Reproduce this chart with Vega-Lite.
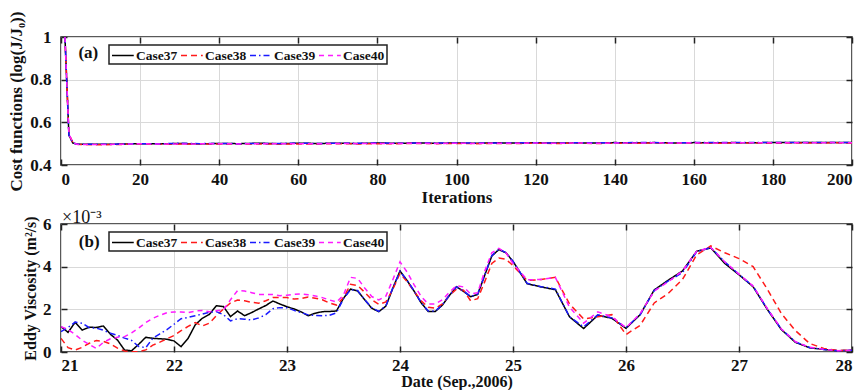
{
  "$schema": "https://vega.github.io/schema/vega-lite/v6.json",
  "padding": {"left": 6, "top": 10, "right": 13, "bottom": 0},
  "bounds": "flush",
  "spacing": 59,
  "background": "white",
  "config": {
    "font": "Liberation Serif",
    "view": {"stroke": "#222222", "strokeWidth": 1.5},
    "axis": {
      "labelFont": "Liberation Serif", "labelFontWeight": "bold", "labelFontSize": 17, "labelColor": "#111111",
      "titleFont": "Liberation Serif", "titleFontWeight": "bold", "titleFontSize": 17, "titleColor": "#111111",
      "domain": false, "gridColor": "#d9d9d9", "gridWidth": 1, "gridOpacity": 1,
      "tickColor": "#222222", "tickWidth": 1.5, "tickSize": -6, "labelPadding": 12
    },
    "axisY": {"labelPadding": 16, "titlePadding": 4},
    "legend": {
      "title": null, "orient": "none", "direction": "horizontal", "columns": 4,
      "symbolType": "M-1,0H1.9", "symbolSize": 225, "symbolStrokeWidth": 1.5,
      "labelFont": "Liberation Serif", "labelFontWeight": "bold", "labelFontSize": 13.5, "labelColor": "#111111",
      "labelOffset": 8, "columnPadding": 0, "rowPadding": 0,
      "strokeColor": "#222222", "strokeWidth": 1.5, "fillColor": "white", "padding": 2
    }
  },
  "resolve": {
    "scale": {"x": "independent", "y": "independent"},
    "legend": {"color": "independent", "strokeDash": "independent"}
  },
  "vconcat": [
    {
      "width": 791,
      "height": 128,
      "layer": [
        {
          "data": {"values": [
            {"it": 1, "Case37": 1.0, "Case38": 1.0, "Case39": 1.0, "Case40": 1.0},
            {"it": 2, "Case37": 0.54, "Case38": 0.545, "Case39": 0.54, "Case40": 0.545},
            {"it": 3, "Case37": 0.503, "Case38": 0.505, "Case39": 0.503, "Case40": 0.505},
            {"it": 4, "Case37": 0.498, "Case38": 0.497, "Case39": 0.498, "Case40": 0.497},
            {"it": 5, "Case37": 0.497, "Case38": 0.496, "Case39": 0.497, "Case40": 0.496},
            {"it": 10, "Case37": 0.497, "Case38": 0.495, "Case39": 0.497, "Case40": 0.496},
            {"it": 15, "Case37": 0.498, "Case38": 0.496, "Case39": 0.498, "Case40": 0.497},
            {"it": 20, "Case37": 0.5, "Case38": 0.499, "Case39": 0.5, "Case40": 0.5},
            {"it": 25, "Case37": 0.499, "Case38": 0.497, "Case39": 0.499, "Case40": 0.498},
            {"it": 30, "Case37": 0.501, "Case38": 0.498, "Case39": 0.502, "Case40": 0.499},
            {"it": 35, "Case37": 0.499, "Case38": 0.498, "Case39": 0.5, "Case40": 0.499},
            {"it": 40, "Case37": 0.501, "Case38": 0.499, "Case39": 0.501, "Case40": 0.5},
            {"it": 45, "Case37": 0.5, "Case38": 0.498, "Case39": 0.5, "Case40": 0.499},
            {"it": 50, "Case37": 0.502, "Case38": 0.499, "Case39": 0.501, "Case40": 0.5},
            {"it": 55, "Case37": 0.5, "Case38": 0.498, "Case39": 0.501, "Case40": 0.499},
            {"it": 60, "Case37": 0.502, "Case38": 0.499, "Case39": 0.502, "Case40": 0.5},
            {"it": 65, "Case37": 0.501, "Case38": 0.499, "Case39": 0.501, "Case40": 0.5},
            {"it": 70, "Case37": 0.502, "Case38": 0.5, "Case39": 0.502, "Case40": 0.501},
            {"it": 75, "Case37": 0.501, "Case38": 0.499, "Case39": 0.502, "Case40": 0.5},
            {"it": 80, "Case37": 0.503, "Case38": 0.5, "Case39": 0.503, "Case40": 0.501},
            {"it": 85, "Case37": 0.502, "Case38": 0.5, "Case39": 0.502, "Case40": 0.501},
            {"it": 90, "Case37": 0.503, "Case38": 0.501, "Case39": 0.503, "Case40": 0.502},
            {"it": 95, "Case37": 0.502, "Case38": 0.5, "Case39": 0.503, "Case40": 0.501},
            {"it": 100, "Case37": 0.503, "Case38": 0.501, "Case39": 0.503, "Case40": 0.502},
            {"it": 105, "Case37": 0.502, "Case38": 0.5, "Case39": 0.503, "Case40": 0.501},
            {"it": 110, "Case37": 0.504, "Case38": 0.501, "Case39": 0.503, "Case40": 0.502},
            {"it": 115, "Case37": 0.503, "Case38": 0.501, "Case39": 0.504, "Case40": 0.502},
            {"it": 120, "Case37": 0.504, "Case38": 0.502, "Case39": 0.504, "Case40": 0.503},
            {"it": 125, "Case37": 0.503, "Case38": 0.501, "Case39": 0.503, "Case40": 0.502},
            {"it": 130, "Case37": 0.504, "Case38": 0.502, "Case39": 0.504, "Case40": 0.503},
            {"it": 135, "Case37": 0.503, "Case38": 0.501, "Case39": 0.504, "Case40": 0.502},
            {"it": 140, "Case37": 0.505, "Case38": 0.502, "Case39": 0.504, "Case40": 0.503},
            {"it": 145, "Case37": 0.504, "Case38": 0.502, "Case39": 0.505, "Case40": 0.503},
            {"it": 150, "Case37": 0.505, "Case38": 0.503, "Case39": 0.505, "Case40": 0.504},
            {"it": 155, "Case37": 0.503, "Case38": 0.502, "Case39": 0.504, "Case40": 0.503},
            {"it": 160, "Case37": 0.505, "Case38": 0.503, "Case39": 0.505, "Case40": 0.504},
            {"it": 165, "Case37": 0.504, "Case38": 0.502, "Case39": 0.505, "Case40": 0.503},
            {"it": 170, "Case37": 0.505, "Case38": 0.503, "Case39": 0.505, "Case40": 0.504},
            {"it": 175, "Case37": 0.504, "Case38": 0.503, "Case39": 0.505, "Case40": 0.504},
            {"it": 180, "Case37": 0.506, "Case38": 0.502, "Case39": 0.505, "Case40": 0.504},
            {"it": 185, "Case37": 0.505, "Case38": 0.503, "Case39": 0.506, "Case40": 0.504},
            {"it": 190, "Case37": 0.505, "Case38": 0.503, "Case39": 0.505, "Case40": 0.504},
            {"it": 195, "Case37": 0.506, "Case38": 0.504, "Case39": 0.506, "Case40": 0.505},
            {"it": 200, "Case37": 0.505, "Case38": 0.503, "Case39": 0.505, "Case40": 0.504}
          ]},
          "transform": [{"fold": ["Case37", "Case38", "Case39", "Case40"], "as": ["case", "val"]}],
          "mark": {"type": "line", "strokeWidth": 1.5, "clip": true},
          "encoding": {
            "x": {"field": "it", "type": "quantitative", "scale": {"domain": [0, 200], "nice": false},
                  "axis": {"title": "Iterations", "values": [0, 20, 40, 60, 80, 100, 120, 140, 160, 180, 200], "titlePadding": 2}},
            "y": {"field": "val", "type": "quantitative", "scale": {"domain": [0.4, 1], "nice": false, "zero": false},
                  "axis": {"title": "Cost functions (log(J/J₀))", "values": [0.4, 0.6, 0.8, 1], "format": "~g"}},
            "color": {"field": "case", "type": "nominal",
                      "scale": {"domain": ["Case37", "Case38", "Case39", "Case40"], "range": ["#000000", "#ff1a1a", "#1a1aff", "#ff1aff"]},
                      "legend": {"legendX": 48, "legendY": 8}},
            "strokeDash": {"field": "case", "type": "nominal",
                           "scale": {"domain": ["Case37", "Case38", "Case39", "Case40"], "range": [[1, 0], [6, 4], [6, 3, 1.5, 3], [5, 4]]},
                           "legend": {"legendX": 48, "legendY": 8}}
          }
        },
        {
          "data": {"values": [{"label": "(a)"}]},
          "mark": {"type": "text", "fontSize": 17, "fontWeight": "bold", "font": "Liberation Serif", "color": "#111111"},
          "encoding": {
            "x": {"datum": 6.9, "type": "quantitative",
                  "axis": {"orient": "top", "labels": false, "grid": false, "title": null, "values": [0, 20, 40, 60, 80, 100, 120, 140, 160, 180, 200]}},
            "y": {"datum": 0.925, "type": "quantitative",
                  "axis": {"orient": "right", "labels": false, "grid": false, "title": null, "values": [0.4, 0.6, 0.8, 1]}},
            "text": {"field": "label"}
          }
        }
      ],
      "resolve": {"axis": {"x": "independent", "y": "independent"}}
    },
    {
      "width": 791,
      "height": 128,
      "title": {"text": "×10⁻³", "anchor": "start", "frame": "group", "fontSize": 18, "fontWeight": "normal", "font": "Liberation Serif", "color": "#111111", "offset": -12, "dx": 1},
      "layer": [
        {
          "data": {"values": [
            {"d": 21.0, "Case37": 1.19, "Case38": 0.64, "Case39": 0.95, "Case40": 1.19},
            {"d": 21.0625, "Case37": 0.92, "Case38": 0.2, "Case39": 1.15, "Case40": 1.05},
            {"d": 21.125, "Case37": 1.39, "Case38": 0.09, "Case39": 1.4, "Case40": 0.82},
            {"d": 21.1875, "Case37": 1.03, "Case38": 0.22, "Case39": 1.35, "Case40": 0.55},
            {"d": 21.25, "Case37": 1.16, "Case38": 0.41, "Case39": 1.14, "Case40": 0.35},
            {"d": 21.3125, "Case37": 1.15, "Case38": 0.54, "Case39": 1.12, "Case40": 0.17},
            {"d": 21.375, "Case37": 1.22, "Case38": 0.5, "Case39": 1.02, "Case40": 0.45},
            {"d": 21.4375, "Case37": 0.83, "Case38": 0.38, "Case39": 0.88, "Case40": 0.62},
            {"d": 21.5, "Case37": 0.56, "Case38": 0.18, "Case39": 0.78, "Case40": 0.69},
            {"d": 21.5625, "Case37": 0.09, "Case38": 0.05, "Case39": 0.65, "Case40": 0.72},
            {"d": 21.625, "Case37": 0.06, "Case38": 0.01, "Case39": 0.54, "Case40": 0.9},
            {"d": 21.6875, "Case37": 0.36, "Case38": 0.01, "Case39": 0.26, "Case40": 1.12},
            {"d": 21.75, "Case37": 0.69, "Case38": 0.1, "Case39": 0.2, "Case40": 1.38},
            {"d": 21.8125, "Case37": 0.64, "Case38": 0.32, "Case39": 0.65, "Case40": 1.58},
            {"d": 21.875, "Case37": 0.62, "Case38": 0.46, "Case39": 0.85, "Case40": 1.72},
            {"d": 21.9375, "Case37": 0.6, "Case38": 0.62, "Case39": 1.05, "Case40": 1.84},
            {"d": 22.0, "Case37": 0.52, "Case38": 0.77, "Case39": 1.3, "Case40": 1.88},
            {"d": 22.0625, "Case37": 0.25, "Case38": 1.0, "Case39": 1.56, "Case40": 1.88},
            {"d": 22.125, "Case37": 0.64, "Case38": 1.2, "Case39": 1.62, "Case40": 1.84},
            {"d": 22.1875, "Case37": 1.27, "Case38": 1.38, "Case39": 1.7, "Case40": 1.92},
            {"d": 22.25, "Case37": 1.58, "Case38": 1.22, "Case39": 1.78, "Case40": 1.95},
            {"d": 22.3125, "Case37": 1.76, "Case38": 1.35, "Case39": 1.86, "Case40": 1.89},
            {"d": 22.375, "Case37": 2.17, "Case38": 1.7, "Case39": 1.89, "Case40": 1.93},
            {"d": 22.4375, "Case37": 2.13, "Case38": 2.02, "Case39": 1.75, "Case40": 1.97},
            {"d": 22.5, "Case37": 1.66, "Case38": 2.3, "Case39": 1.46, "Case40": 2.45},
            {"d": 22.5625, "Case37": 1.92, "Case38": 2.44, "Case39": 1.56, "Case40": 2.88},
            {"d": 22.625, "Case37": 1.7, "Case38": 2.4, "Case39": 1.54, "Case40": 2.86},
            {"d": 22.6875, "Case37": 1.85, "Case38": 2.33, "Case39": 1.5, "Case40": 2.78},
            {"d": 22.75, "Case37": 2.02, "Case38": 2.29, "Case39": 1.6, "Case40": 2.7},
            {"d": 22.8125, "Case37": 2.18, "Case38": 2.4, "Case39": 1.75, "Case40": 2.7},
            {"d": 22.875, "Case37": 2.39, "Case38": 2.55, "Case39": 2.03, "Case40": 2.7},
            {"d": 22.9375, "Case37": 2.25, "Case38": 2.55, "Case39": 2.08, "Case40": 2.64},
            {"d": 23.0, "Case37": 2.12, "Case38": 2.55, "Case39": 2.08, "Case40": 2.66},
            {"d": 23.0625, "Case37": 2.02, "Case38": 2.48, "Case39": 1.95, "Case40": 2.7},
            {"d": 23.125, "Case37": 1.88, "Case38": 2.5, "Case39": 1.85, "Case40": 2.72},
            {"d": 23.1875, "Case37": 1.7, "Case38": 2.58, "Case39": 1.74, "Case40": 2.68},
            {"d": 23.25, "Case37": 1.82, "Case38": 2.52, "Case39": 1.71, "Case40": 2.63},
            {"d": 23.3125, "Case37": 1.89, "Case38": 2.45, "Case39": 1.7, "Case40": 2.55},
            {"d": 23.375, "Case37": 1.9, "Case38": 2.3, "Case39": 1.72, "Case40": 2.44},
            {"d": 23.4375, "Case37": 1.92, "Case38": 2.2, "Case39": 1.84, "Case40": 2.34},
            {"d": 23.5, "Case37": 2.52, "Case38": 2.55, "Case39": 2.5, "Case40": 2.67},
            {"d": 23.5625, "Case37": 2.95, "Case38": 3.17, "Case39": 2.93, "Case40": 3.5},
            {"d": 23.625, "Case37": 2.86, "Case38": 3.12, "Case39": 2.88, "Case40": 3.45},
            {"d": 23.6875, "Case37": 2.45, "Case38": 2.8, "Case39": 2.45, "Case40": 3.0},
            {"d": 23.75, "Case37": 2.05, "Case38": 2.45, "Case39": 2.08, "Case40": 2.6},
            {"d": 23.8125, "Case37": 1.89, "Case38": 2.23, "Case39": 1.9, "Case40": 2.44},
            {"d": 23.875, "Case37": 2.15, "Case38": 2.35, "Case39": 2.16, "Case40": 2.62},
            {"d": 23.9375, "Case37": 3.0, "Case38": 2.95, "Case39": 3.02, "Case40": 3.4},
            {"d": 24.0, "Case37": 3.8, "Case38": 3.69, "Case39": 3.78, "Case40": 4.23},
            {"d": 24.0625, "Case37": 3.35, "Case38": 3.3, "Case39": 3.36, "Case40": 3.75},
            {"d": 24.125, "Case37": 2.85, "Case38": 2.85, "Case39": 2.86, "Case40": 3.15},
            {"d": 24.1875, "Case37": 2.3, "Case38": 2.4, "Case39": 2.32, "Case40": 2.6},
            {"d": 24.25, "Case37": 1.9, "Case38": 2.1, "Case39": 1.92, "Case40": 2.25},
            {"d": 24.3125, "Case37": 1.9, "Case38": 2.05, "Case39": 1.92, "Case40": 2.25},
            {"d": 24.375, "Case37": 2.2, "Case38": 2.25, "Case39": 2.22, "Case40": 2.45},
            {"d": 24.4375, "Case37": 2.65, "Case38": 2.65, "Case39": 2.66, "Case40": 2.8},
            {"d": 24.5, "Case37": 3.06, "Case38": 2.95, "Case39": 3.05, "Case40": 3.11},
            {"d": 24.5625, "Case37": 2.84, "Case38": 2.9, "Case39": 2.86, "Case40": 3.05},
            {"d": 24.625, "Case37": 2.59, "Case38": 2.4, "Case39": 2.6, "Case40": 2.72},
            {"d": 24.6875, "Case37": 2.7, "Case38": 2.5, "Case39": 2.72, "Case40": 2.78},
            {"d": 24.75, "Case37": 3.6, "Case38": 3.3, "Case39": 3.62, "Case40": 3.8},
            {"d": 24.8125, "Case37": 4.5, "Case38": 4.15, "Case39": 4.52, "Case40": 4.65},
            {"d": 24.875, "Case37": 4.8, "Case38": 4.4, "Case39": 4.82, "Case40": 4.86},
            {"d": 24.9375, "Case37": 4.65, "Case38": 4.35, "Case39": 4.66, "Case40": 4.65},
            {"d": 25.0, "Case37": 4.25, "Case38": 4.05, "Case39": 4.25, "Case40": 4.15},
            {"d": 25.125, "Case37": 3.2, "Case38": 3.35, "Case39": 3.22, "Case40": 3.38},
            {"d": 25.25, "Case37": 3.05, "Case38": 3.4, "Case39": 3.06, "Case40": 3.4},
            {"d": 25.375, "Case37": 2.92, "Case38": 3.5, "Case39": 2.95, "Case40": 3.5},
            {"d": 25.5, "Case37": 1.65, "Case38": 2.25, "Case39": 1.65, "Case40": 2.1},
            {"d": 25.625, "Case37": 1.1, "Case38": 1.55, "Case39": 1.18, "Case40": 1.35},
            {"d": 25.75, "Case37": 1.72, "Case38": 1.65, "Case39": 1.74, "Case40": 1.88},
            {"d": 25.875, "Case37": 1.58, "Case38": 1.75, "Case39": 1.6, "Case40": 1.65},
            {"d": 26.0, "Case37": 1.11, "Case38": 0.82, "Case39": 1.14, "Case40": 1.14},
            {"d": 26.125, "Case37": 1.75, "Case38": 1.25, "Case39": 1.75, "Case40": 1.8},
            {"d": 26.25, "Case37": 2.91, "Case38": 2.3, "Case39": 2.88, "Case40": 2.86},
            {"d": 26.375, "Case37": 3.37, "Case38": 2.75, "Case39": 3.33, "Case40": 3.3},
            {"d": 26.5, "Case37": 3.8, "Case38": 3.4, "Case39": 3.72, "Case40": 3.8},
            {"d": 26.625, "Case37": 4.72, "Case38": 4.55, "Case39": 4.7, "Case40": 4.72},
            {"d": 26.75, "Case37": 4.88, "Case38": 4.97, "Case39": 4.9, "Case40": 4.9},
            {"d": 26.875, "Case37": 4.15, "Case38": 4.65, "Case39": 4.22, "Case40": 4.22},
            {"d": 27.0, "Case37": 3.62, "Case38": 4.38, "Case39": 3.64, "Case40": 3.65},
            {"d": 27.125, "Case37": 3.06, "Case38": 4.0, "Case39": 3.08, "Case40": 3.09},
            {"d": 27.25, "Case37": 2.0, "Case38": 2.95, "Case39": 2.02, "Case40": 2.04},
            {"d": 27.375, "Case37": 1.05, "Case38": 1.8, "Case39": 1.07, "Case40": 1.08},
            {"d": 27.5, "Case37": 0.45, "Case38": 1.0, "Case39": 0.47, "Case40": 0.48},
            {"d": 27.625, "Case37": 0.2, "Case38": 0.4, "Case39": 0.21, "Case40": 0.22},
            {"d": 27.75, "Case37": 0.12, "Case38": 0.17, "Case39": 0.12, "Case40": 0.13},
            {"d": 27.875, "Case37": 0.06, "Case38": 0.07, "Case39": 0.06, "Case40": 0.06},
            {"d": 28.0, "Case37": 0.08, "Case38": 0.08, "Case39": 0.08, "Case40": 0.08}
          ]},
          "transform": [{"fold": ["Case37", "Case38", "Case39", "Case40"], "as": ["case", "val"]}],
          "mark": {"type": "line", "strokeWidth": 1.5, "clip": true},
          "encoding": {
            "x": {"field": "d", "type": "quantitative", "scale": {"domain": [21, 28], "nice": false, "zero": false},
                  "axis": {"title": "Date (Sep.,2006)", "values": [21, 22, 23, 24, 25, 26, 27, 28], "labelPadding": 11, "titlePadding": 0, "titleFontSize": 16}},
            "y": {"field": "val", "type": "quantitative", "scale": {"domain": [0, 6], "nice": false},
                  "axis": {"title": "Eddy Viscosity (m²/s)", "values": [0, 2, 4, 6], "titleFontSize": 16}},
            "color": {"field": "case", "type": "nominal",
                      "scale": {"domain": ["Case37", "Case38", "Case39", "Case40"], "range": ["#000000", "#ff1a1a", "#1a1aff", "#ff1aff"]},
                      "legend": {"legendX": 48, "legendY": 8}},
            "strokeDash": {"field": "case", "type": "nominal",
                           "scale": {"domain": ["Case37", "Case38", "Case39", "Case40"], "range": [[1, 0], [6, 4], [6, 3, 1.5, 3], [5, 4]]},
                           "legend": {"legendX": 48, "legendY": 8}}
          }
        },
        {
          "data": {"values": [{"label": "(b)"}]},
          "mark": {"type": "text", "fontSize": 17, "fontWeight": "bold", "font": "Liberation Serif", "color": "#111111"},
          "encoding": {
            "x": {"datum": 21.25, "type": "quantitative",
                  "axis": {"orient": "top", "labels": false, "grid": false, "title": null, "values": [21, 22, 23, 24, 25, 26, 27, 28]}},
            "y": {"datum": 5.15, "type": "quantitative",
                  "axis": {"orient": "right", "labels": false, "grid": false, "title": null, "values": [0, 2, 4, 6]}},
            "text": {"field": "label"}
          }
        }
      ],
      "resolve": {"axis": {"x": "independent", "y": "independent"}}
    }
  ]
}
